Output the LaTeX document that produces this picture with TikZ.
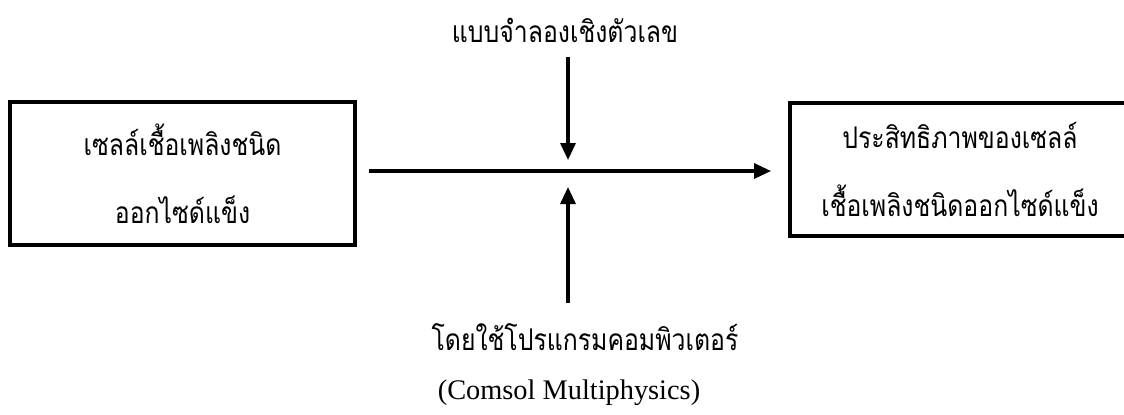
\documentclass[tikz,border=0pt]{standalone}
\usepackage{fontspec}
\setmainfont{Liberation Serif}
\newfontfamily\thaifont[Script=Thai, FakeStretch=0.83]{Loma}
\usetikzlibrary{arrows.meta,positioning,calc}

\begin{document}
\begin{tikzpicture}[x=0.1mm, y=-0.1mm,
  every node/.style={font=\thaifont\fontsize{8.5}{19.4}\selectfont},
  >={Triangle[length=1.7mm, width=1.5mm]},
  stagebox/.style={draw, line width=1.1pt, align=center, inner sep=0pt},
  flow/.style={->, line width=0.9pt}]
\useasboundingbox (0,0) rectangle (1124,414);
\clip (0,0) rectangle (1124,414);
\node[stagebox, minimum width=34.5mm, minimum height=14.3mm] (cell) at (182.5,173.5) {เซลล์เชื้อเพลิงชนิด\\ออกไซด์แข็ง};
\node[stagebox, minimum width=34mm, minimum height=13.3mm] (result) at (960,169.5) {ประสิทธิภาพของเซลล์\\เชื้อเพลิงชนิดออกไซด์แข็ง};
\node (model) at (565,30) {แบบจำลองเชิงตัวเลข};
\node (program) at (585,337) {โดยใช้โปรแกรมคอมพิวเตอร์};
\node[font=\fontsize{8.07}{10}\selectfont] (comsol) at (569,393) {(Comsol Multiphysics)};
\coordinate (topend) at (568,160);
\coordinate (botend) at (568,187);
\coordinate (junction) at (568,171);
% main flow and the two inputs
\draw[flow, shorten <=1.2mm, shorten >=1.7mm] (cell.east |- junction) -- (result.west |- junction);
\draw[flow, shorten <=0.2mm] (model.south -| topend) -- (topend);
\draw[flow, shorten <=0.8mm] (program.north -| botend) -- (botend);
\end{tikzpicture}
\end{document}
